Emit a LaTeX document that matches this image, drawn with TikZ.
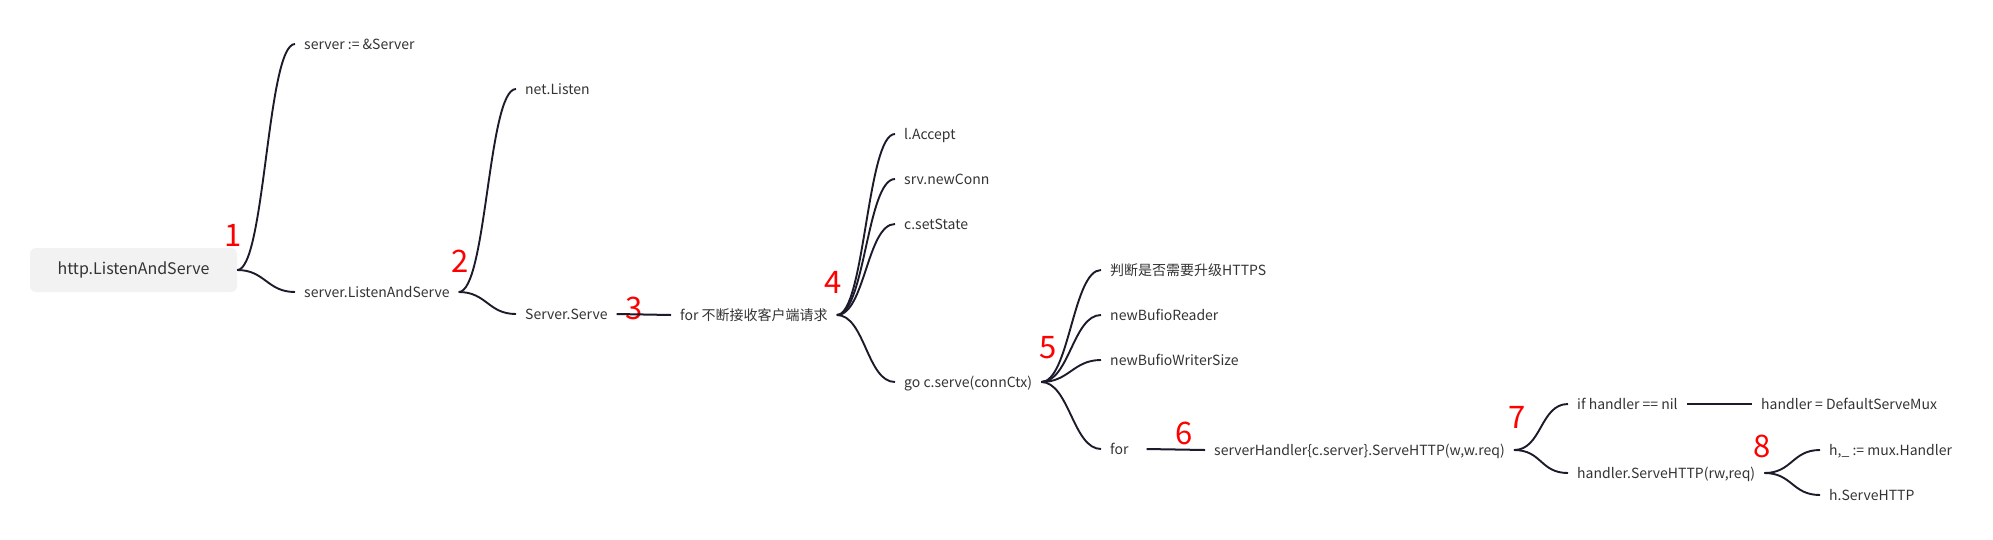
\documentclass[tikz,border=0pt]{standalone}
\usepackage{fontspec}
\setmainfont{Noto Sans CJK SC}
\usepackage{tikz}
\usetikzlibrary{positioning}
\definecolor{txt}{HTML}{333333}
\definecolor{wire}{HTML}{1B1B2B}
\definecolor{rootfill}{HTML}{F2F2F2}
\tikzstyle{root} = [rectangle, rounded corners=6pt, minimum width=207pt, minimum
height=44pt, fill=rootfill, text=txt, font=\fontsize{16}{18}\selectfont]
\tikzstyle{leaf} = [anchor=west, inner xsep=9pt, inner ysep=0pt, text height=10pt,
text depth=0pt, text=txt, font=\fontsize{14}{16}\selectfont]
\tikzstyle{num} = [text=red, inner sep=0pt, font=\fontsize{31}{32}\selectfont]
\tikzstyle{branch} = [draw=wire, line width=1.9pt, to path={.. controls +(28pt,0)
and +(-28pt,0) .. (\tikztotarget)}]
\tikzstyle{link} = [draw=wire, line width=2pt]

\begin{document}
\begin{tikzpicture}[x=1pt, y=-1pt]
\useasboundingbox (0,0) rectangle (1993,539);

\node(root)[root] at (133.5,270){http.ListenAndServe};
\node(srv)[leaf] at (295,44){server := \&Server};
\node(sls)[leaf] at (295,292){server.ListenAndServe};
\node(listen)[leaf] at (516,89){net.Listen};
\node(serve)[leaf] at (516,314){Server.Serve};
\node(loop)[leaf] at (671,315){for 不断接收客户端请求};
\node(accept)[leaf] at (895,134){l.Accept};
\node(newconn)[leaf] at (895,179){srv.newConn};
\node(state)[leaf] at (895,224){c.setState};
\node(gos)[leaf] at (895,382){go c.serve(connCtx)};
\node(https)[leaf] at (1101,270){判断是否需要升级HTTPS};
\node(reader)[leaf] at (1101,315){newBufioReader};
\node(writer)[leaf] at (1101,360){newBufioWriterSize};
\node(forloop)[leaf] at (1101,449){for};
\node(sh)[leaf] at (1205,450){serverHandler\{c.server\}.ServeHTTP(w,w.req)};
\node(ifnil)[leaf] at (1568,404){if handler == nil};
\node(dmux)[leaf] at (1752,404){handler = DefaultServeMux};
\node(hserve)[leaf] at (1568,473){handler.ServeHTTP(rw,req)};
\node(mh)[leaf] at (1820,450){h,\_ := mux.Handler};
\node(hs)[leaf] at (1820,495){h.ServeHTTP};

% step numbers
\node(n1)[num] at (233,235){1};
\node(n2)[num] at (460,261){2};
\node(n3)[num] at (634,308){3};
\node(n4)[num] at (833,282){4};
\node(n5)[num] at (1048,348){5};
\node(n6)[num] at (1184,433){6};
\node(n7)[num] at (1517,417){7};
\node(n8)[num] at (1762,446){8};

\draw[branch](root.east) to (srv.west);
\draw[branch](root.east) to (sls.west);
\draw[branch](sls.east) to (listen.west);
\draw[branch](sls.east) to (serve.west);
\draw[link](serve.east) -- (loop.west);
\draw[branch](loop.east) to (accept.west);
\draw[branch](loop.east) to (newconn.west);
\draw[branch](loop.east) to (state.west);
\draw[branch](loop.east) to (gos.west);
\draw[branch](gos.east) to (https.west);
\draw[branch](gos.east) to (reader.west);
\draw[branch](gos.east) to (writer.west);
\draw[branch](gos.east) to (forloop.west);
\draw[link]([xshift=9pt]forloop.east) -- (sh.west);
\draw[branch](sh.east) to (ifnil.west);
\draw[branch](sh.east) to (hserve.west);
\draw[link](ifnil.east) -- (dmux.west);
\draw[branch](hserve.east) to (mh.west);
\draw[branch](hserve.east) to (hs.west);

\end{tikzpicture}
\end{document}
